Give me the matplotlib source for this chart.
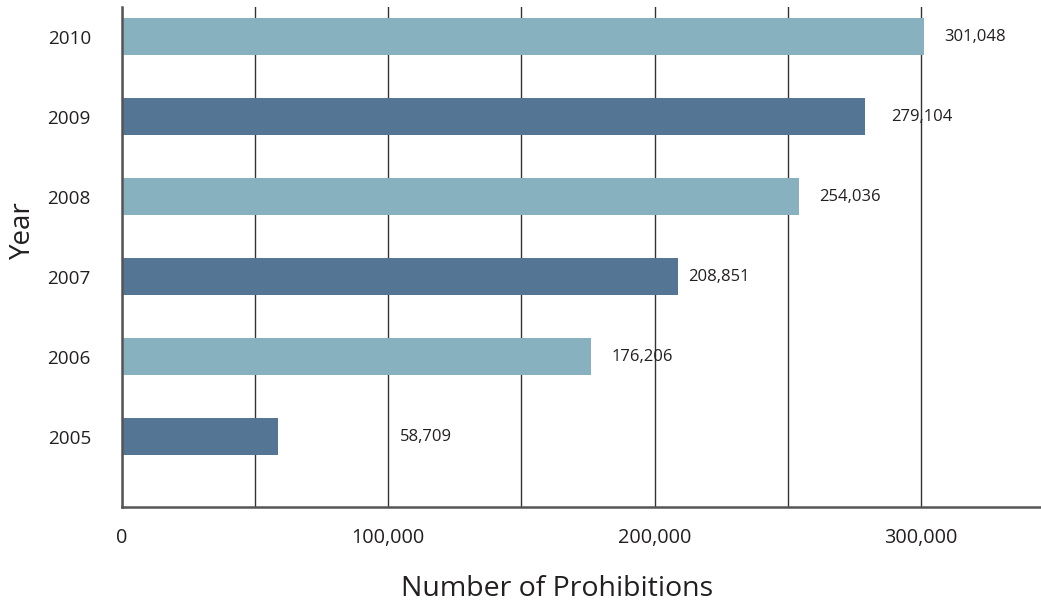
import numpy as np
import matplotlib
matplotlib.use("Agg")
import matplotlib.pyplot as plt
from matplotlib.ticker import FuncFormatter, MultipleLocator

# dati
anni     = ["2005", "2006", "2007", "2008", "2009", "2010"]
divieti  = [58709, 176206, 208851, 254036, 279104, 301048]
etichette = ["58,709", "176,206", "208,851", "254,036", "279,104", "301,048"]
tick_x   = [0, 100000, 200000, 300000]

# stile
CHIARO = "#87b1bf"
SCURO  = "#557594"
TESTO  = "#231f20"
colori = [SCURO, CHIARO, SCURO, CHIARO, SCURO, CHIARO]
scarto = [122, 20, 10, 21, 26, 20]   # distanza etichetta-barra in pixel

plt.rcParams['font.family'] = ['Open Sans', 'DejaVu Sans']

fig = plt.figure(figsize=(10.41, 6.06), dpi=100)
ax = fig.add_axes([121.5/1041, 1-507/606, 1-121.5/1041, 500/606])

y = np.arange(len(anni))
ax.barh(y, divieti, height=0.46, color=colori, zorder=2)

for i in range(len(anni)):
    ax.annotate(etichette[i], xy=(divieti[i], y[i]), xytext=(scarto[i], 0),
                textcoords="offset pixels", ha="left", va="center",
                fontsize=12, color=TESTO)

ax.set_xlim(0, 345000)
ax.set_ylim(-0.88, 5.37)

ax.xaxis.set_minor_locator(MultipleLocator(50000))
ax.set_xticks(tick_x)
ax.xaxis.set_major_formatter(FuncFormatter(lambda v, p: f"{v:,.0f}"))
ax.grid(axis="x", which="both", color="#333333", linewidth=1.0, zorder=1)
ax.set_axisbelow(True)

ax.set_yticks(y)
ax.set_yticklabels(anni)
ax.tick_params(axis="both", which="both", length=0, colors=TESTO)
ax.tick_params(axis="x", pad=15, labelsize=14.3)
ax.tick_params(axis="y", pad=22, labelsize=13.6)

for s in ["top", "right"]:
    ax.spines[s].set_visible(False)
ax.spines["left"].set_color("#555555")
ax.spines["left"].set_linewidth(1.8)
ax.spines["bottom"].set_color("#555555")
ax.spines["bottom"].set_linewidth(1.8)

ax.set_xlabel("Number of Prohibitions", fontsize=20.5, color=TESTO)
ax.xaxis.set_label_coords(0.474, -0.135)
ax.set_ylabel("Year", fontsize=20, color=TESTO)
ax.yaxis.set_label_coords(-0.092, 0.554)

plt.savefig("out.png", dpi=100)
